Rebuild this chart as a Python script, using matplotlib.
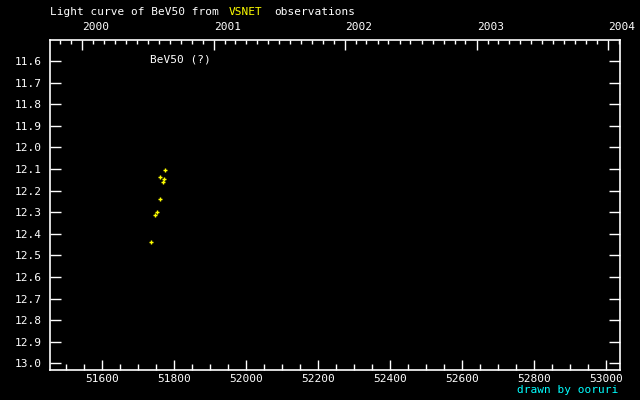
import datetime
import matplotlib
matplotlib.use("Agg")
import matplotlib.pyplot as plt
from matplotlib.ticker import MultipleLocator, FixedLocator

plt.rcParams["font.family"] = ["DejaVu Sans Mono"]

# observations (MJD, visual magnitude)
mjd = [51775, 51761, 51772, 51769, 51761, 51753, 51747, 51736]
mag = [12.107, 12.135, 12.148, 12.158, 12.237, 12.297, 12.315, 12.436]

star = "BeV50"
years = [2000, 2001, 2002, 2003, 2004]
xlim = (51455, 53039)
ylim = (13.031, 11.504)


def to_mjd(d):
    return (d - datetime.date(1858, 11, 17)).days


fig = plt.figure(figsize=(6.4, 4), dpi=100, facecolor="black")
ax = fig.add_axes([50 / 640, 30 / 400, 570.3 / 640, 329.7 / 400], facecolor="black")

ax.plot(mjd, mag, linestyle="none", marker="+", color="yellow",
        markersize=3.5, markeredgewidth=1)

ax.set_xlim(*xlim)
ax.set_ylim(*ylim)

for s in ax.spines.values():
    s.set_color("white")
    s.set_linewidth(1.2)

ax.xaxis.set_major_locator(MultipleLocator(200))
ax.xaxis.set_minor_locator(MultipleLocator(50))
ax.yaxis.set_major_locator(MultipleLocator(0.1))
ax.yaxis.set_major_formatter(matplotlib.ticker.FormatStrFormatter("%.1f"))
ax.tick_params(axis="x", which="major", direction="in", length=7.5, width=1,
               color="white", labelcolor="white", labelsize=8, pad=3)
ax.tick_params(axis="x", which="minor", direction="in", length=4, width=1,
               color="white", top=False)
ax.tick_params(axis="y", which="major", direction="in", length=8, width=1,
               color="white", labelcolor="white", labelsize=8, pad=6,
               right=True)

# top axis: calendar years with monthly minor ticks
top = ax.twiny()
top.set_xlim(*xlim)
year_pos = [to_mjd(datetime.date(y, 1, 1)) for y in years]
month_pos = [to_mjd(datetime.date(y, m, 1)) for y in range(1999, 2005) for m in range(1, 13)]
month_pos = [p for p in month_pos if xlim[0] <= p <= xlim[1]]
top.xaxis.set_major_locator(FixedLocator(year_pos))
top.xaxis.set_minor_locator(FixedLocator(month_pos))
top.set_xticklabels([str(y) for y in years], ha="left")
top.tick_params(axis="x", which="major", direction="in", length=7.5, width=1,
                color="white", labelcolor="white", labelsize=8, pad=6)
top.tick_params(axis="x", which="minor", direction="in", length=3, width=1,
                color="white")
for s in top.spines.values():
    s.set_visible(False)

fig.text(50 / 640, 1 - 12 / 400, "Light curve of " + star + " from", color="white",
         fontsize=8, va="center", ha="left")
fig.text(229 / 640, 1 - 12 / 400, "VSNET", color="yellow", fontsize=8,
         va="center", ha="left")
fig.text(274 / 640, 1 - 12 / 400, "observations", color="white", fontsize=8,
         va="center", ha="left")
fig.text(150 / 640, 1 - 60 / 400, star + " (?)", color="white", fontsize=8,
         va="center", ha="left")
fig.text(618 / 640, 1 - 390 / 400, "drawn by ooruri", color="cyan", fontsize=8,
         va="center", ha="right")

fig.savefig("out.png", dpi=100, facecolor="black")
